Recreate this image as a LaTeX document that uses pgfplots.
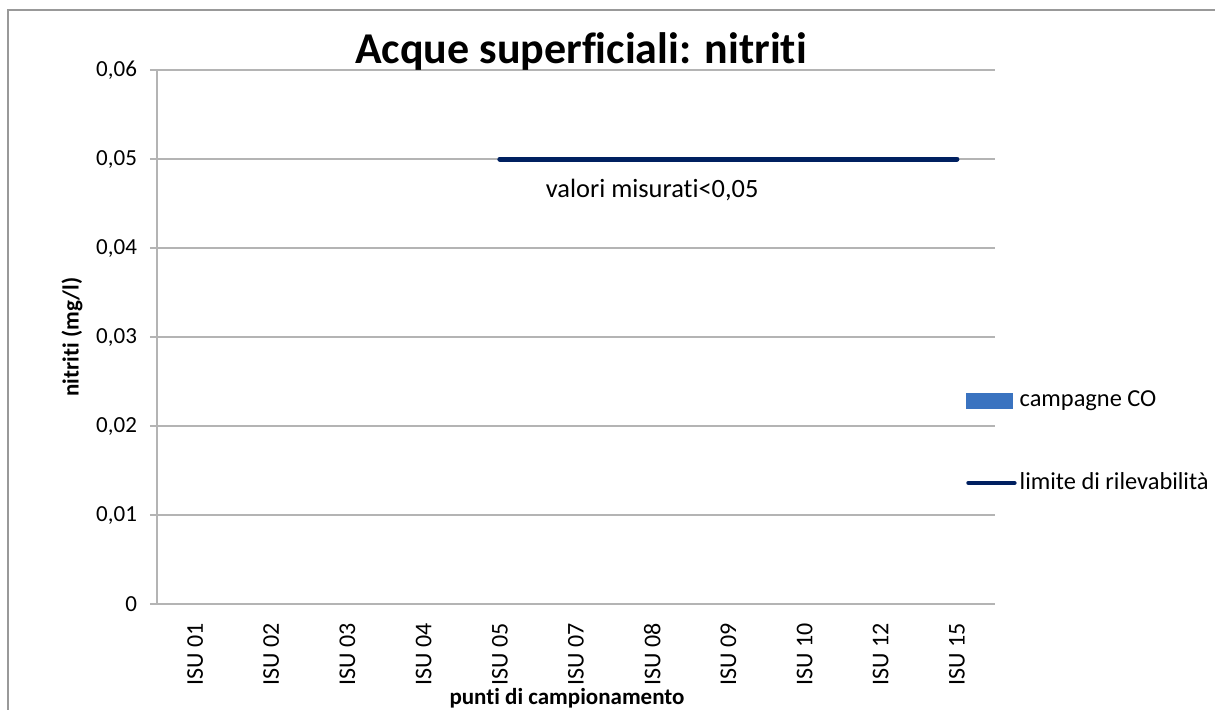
\documentclass[border=0pt]{standalone}
\usepackage{fontspec}
\setmainfont{Carlito}[Ligatures=NoCommon]
\usepackage{pgfplots}
\pgfplotsset{compat=1.18}
\definecolor{gridgray}{RGB}{180,180,180}
\definecolor{navy}{RGB}{0,32,96}
\definecolor{barblue}{RGB}{58,115,192}

\begin{document}
\begin{tikzpicture}
\useasboundingbox (-78.5pt,-52.5pt) rectangle (529pt,302pt);
\draw[gray!80,line width=1pt] (-74.5pt,-60pt) -- (-74.5pt,297pt) -- (540pt,297pt);
\begin{axis}[
  at={(0,0)},anchor=south west,
  scale only axis,width=419pt,height=267pt,
  xmin=-0.5,xmax=10.5,ymin=0,ymax=0.06,
  scaled y ticks=false,
  xtick={0,...,10},
  xticklabels={ISU 01,ISU 02,ISU 03,ISU 04,ISU 05,ISU 07,ISU 08,ISU 09,ISU 10,ISU 12,ISU 15},
  x tick label style={rotate=90,anchor=east,font=\fontsize{12}{14}\selectfont},
  xticklabel shift=2.5pt,
  ytick={0,0.01,0.02,0.03,0.04,0.05,0.06},
  yticklabels={0,{0,01},{0,02},{0,03},{0,04},{0,05},{0,06}},
  y tick label style={font=\fontsize{11.5}{13}\selectfont},
  yticklabel shift=3pt,
  axis x line*=bottom,axis y line*=left,
  axis line style={gridgray,line width=0.8pt,-},
  ymajorgrids,major grid style={gridgray,line width=0.8pt},
  major tick length=3.5pt,
  x tick style={draw=none},
  y tick style={gridgray,line width=0.8pt},
  tick align=outside,
  xlabel={\bfseries punti di campionamento},
  xlabel style={font=\fontsize{11.5}{13}\selectfont,xshift=-4.5pt,yshift=5.5pt},
  ylabel={\bfseries nitriti (mg/l)},
  ylabel style={font=\fontsize{11.5}{13}\selectfont},
  title={\bfseries Acque superficiali: nitriti},
  title style={font=\fontsize{22}{26}\selectfont,at={(rel axis cs:0.5,1)},anchor=base,xshift=2.5pt,yshift=-2.5pt},
  clip=false,
  legend style={draw=none,fill=none,font=\fontsize{12.2}{13}\selectfont,
    at={(rel axis cs:0.965,0.405)},anchor=north west,inner sep=0pt,
    row sep=28.5pt,nodes={inner sep=1.5pt}},
  legend cell align=left,
]
\addlegendimage{legend image code/.code={\fill[barblue] (0pt,-3.75pt) rectangle (23pt,3.75pt);}}
\addlegendentry{campagne CO}
\addplot[navy,line width=2.5pt,line cap=round,
  legend image code/.code={\draw[navy,line width=2.2pt,line cap=round] (1pt,0pt) -- (24pt,0pt);}]
  coordinates {
  (4,0.05) (5,0.05) (6,0.05) (7,0.05) (8,0.05) (9,0.05) (10,0.05)};
\addlegendentry{limite di rilevabilità}
\node[font=\fontsize{13.2}{15}\selectfont] at (axis cs:6,0.0465) {valori misurati<0,05};
\end{axis}
\end{tikzpicture}
\end{document}
